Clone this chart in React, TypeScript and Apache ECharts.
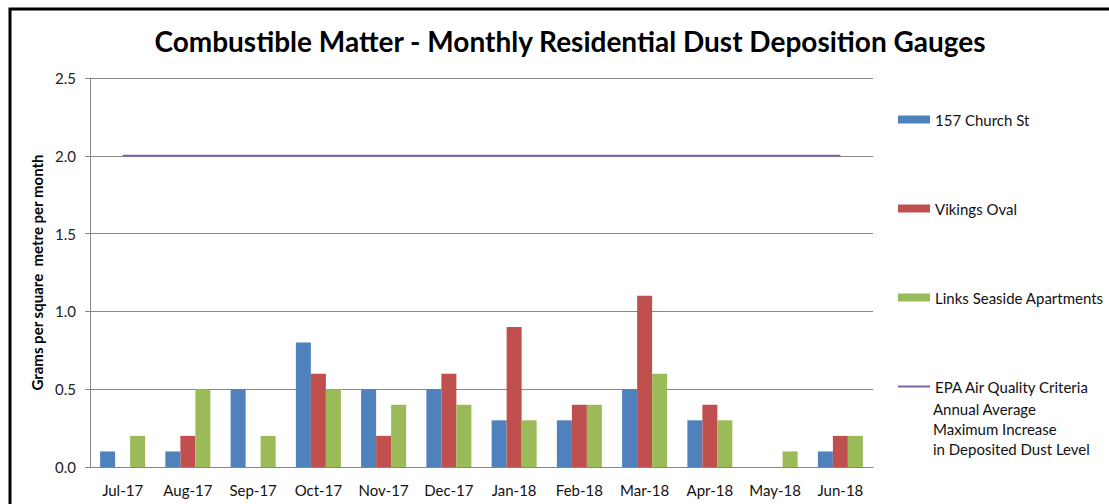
import React, { useEffect, useRef } from "react";
import * as echarts from "echarts";

const categories = ["Jul-17", "Aug-17", "Sep-17", "Oct-17", "Nov-17", "Dec-17", "Jan-18", "Feb-18", "Mar-18", "Apr-18", "May-18", "Jun-18"];
const churchSt = [0.1, 0.1, 0.5, 0.8, 0.5, 0.5, 0.3, 0.3, 0.5, 0.3, null, 0.1];
const vikingsOval = [null, 0.2, null, 0.6, 0.2, 0.6, 0.9, 0.4, 1.1, 0.4, null, 0.2];
const linksSeaside = [0.2, 0.5, 0.2, 0.5, 0.4, 0.4, 0.3, 0.4, 0.6, 0.3, 0.1, 0.2];
const epaCriteria = [2.0, 2.0, 2.0, 2.0, 2.0, 2.0, 2.0, 2.0, 2.0, 2.0, 2.0, 2.0];

const EPA_NAME = "EPA Air Quality Criteria";
const EPA_EXTRA = "Annual Average\nMaximum Increase\nin Deposited Dust Level";

const FONT = "Lato, 'Open Sans', sans-serif";

export default function App() {
  const ref = useRef<HTMLDivElement>(null);
  useEffect(() => {
    if (!ref.current) return;
    const chart = echarts.init(ref.current, undefined, { renderer: "svg" });
    chart.setOption({
      animation: false,
      backgroundColor: "#fff",
      textStyle: { fontFamily: FONT },
      title: {
        text: "Combustible Matter - Monthly Residential Dust Deposition Gauges",
        left: 565,
        textAlign: "center",
        top: 22,
        textStyle: { fontSize: 28, fontWeight: "bold", color: "#000", fontFamily: FONT },
      },
      grid: { left: 90, right: 236, top: 78, bottom: 37, containLabel: false },
      legend: {
        orient: "vertical",
        left: 898,
        top: 112,
        padding: 0,
        itemWidth: 32,
        itemHeight: 8,
        itemGap: 74,
        itemTextGap: 4,
        textStyle: { fontSize: 15, color: "#111", fontFamily: FONT },
        data: [
          { name: "157 Church St", icon: "rect" },
          { name: "Vikings Oval", icon: "rect" },
          { name: "Links Seaside Apartments", icon: "rect" },
          { name: EPA_NAME, icon: "path://M0,0H32V2H0Z", itemStyle: { color: "#8064A2" } },
        ],
      },
      graphic: [
        {
          type: "rect",
          shape: { x: 10, y: 9, width: 1200, height: 600 },
          style: { fill: "none", stroke: "#000", lineWidth: 3 },
          silent: true,
        },
        {
          type: "text",
          x: 933,
          y: 399,
          style: {
            text: EPA_EXTRA,
            fontSize: 15,
            lineHeight: 20,
            fill: "#111",
            fontFamily: FONT,
          },
        },
      ],
      xAxis: {
        type: "category",
        data: categories,
        boundaryGap: true,
        axisLine: { lineStyle: { color: "#868686", width: 1 } },
        axisTick: { show: false },
        axisLabel: { fontSize: 15, color: "#111", margin: 15, interval: 0 },
      },
      yAxis: {
        type: "value",
        min: 0,
        max: 2.5,
        interval: 0.5,
        name: "Grams per square  metre per month",
        nameLocation: "middle",
        nameGap: 41,
        nameTextStyle: { fontSize: 15, fontWeight: "bold", color: "#000" },
        axisLine: { show: true, lineStyle: { color: "#868686" } },
        axisTick: { show: true, length: 5, lineStyle: { color: "#868686" } },
        axisLabel: { fontSize: 15, color: "#222", margin: 14, formatter: (v: number) => v.toFixed(1) },
        splitLine: { lineStyle: { color: "#868686", width: 1 } },
      },
      series: [
        { name: "157 Church St", type: "bar", data: churchSt, barWidth: 15, barGap: "0%", itemStyle: { color: "#4F81BD" } },
        { name: "Vikings Oval", type: "bar", data: vikingsOval, barWidth: 15, barGap: "0%", itemStyle: { color: "#C0504D" } },
        { name: "Links Seaside Apartments", type: "bar", data: linksSeaside, barWidth: 15, barGap: "0%", itemStyle: { color: "#9BBB59" } },
        {
          name: EPA_NAME,
          type: "line",
          data: epaCriteria,
          symbol: "none",
          lineStyle: { color: "#8064A2", width: 2 },
          itemStyle: { color: "#8064A2" },
          z: 5,
        },
      ],
    });
    return () => chart.dispose();
  }, []);
  return <div ref={ref} style={{ position: "fixed", left: 0, top: 0, width: 1109, height: 504 }} />;
}
